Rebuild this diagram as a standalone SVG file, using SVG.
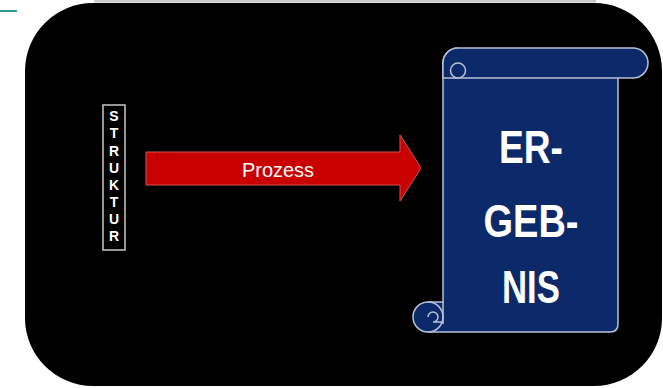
<svg xmlns="http://www.w3.org/2000/svg" width="663" height="388" viewBox="0 0 663 388">
<style>
.lbl{font-family:"Liberation Sans",Arial,sans-serif;fill:#ffffff}
.big{font-size:46px;font-weight:bold;text-anchor:middle}
.vert{font-size:14px;font-weight:bold;text-anchor:middle}
.scr{fill:#0c2a6a;stroke:#b8c0d8;stroke-width:1.5}
</style>
<rect width="663" height="388" fill="#ffffff"/>
<line x1="0" y1="11" x2="17" y2="11" stroke="#2a9a9a" stroke-width="2"/>
<line x1="94" y1="1.2" x2="596" y2="1.2" stroke="#c8c8c8" stroke-width="2.5"/>
<g id="frame">
<rect x="25" y="3" width="637" height="383" rx="68" ry="68" fill="#000000"/>
</g>
<g id="struktur">
<rect x="103" y="105" width="22" height="145" fill="#000000" stroke="#c8c8c8" stroke-width="1.5"/>
<text class="lbl vert" x="114" y="121">S</text>
<text class="lbl vert" x="114" y="138">T</text>
<text class="lbl vert" x="114" y="156">R</text>
<text class="lbl vert" x="114" y="173">U</text>
<text class="lbl vert" x="114" y="190">K</text>
<text class="lbl vert" x="114" y="207">T</text>
<text class="lbl vert" x="114" y="224">U</text>
<text class="lbl vert" x="114" y="241">R</text>
</g>
<g id="connectors">
<g id="prozess">
<path d="M146,152 L400,152 L400,135 L421,168 L400,201 L400,185 L146,185 Z" fill="#c80000" stroke="#d85050" stroke-width="1"/>
<text class="lbl" x="278" y="177" font-size="21" text-anchor="middle" textLength="72" lengthAdjust="spacingAndGlyphs">Prozess</text>
</g>
</g>
<g id="ergebnis">
<path class="scr" d="M443,63 L618,63 L618,324 Q618,332 610,332 L428,332 L428,302 L443,302 Z"/>
<rect class="scr" x="443" y="48" width="205" height="30" rx="15" ry="15"/>
<path class="scr" d="M458,48 A15,15 0 0 0 443,63 L443,78 L458,78 A7.5,7.5 0 0 1 458,63 A7.5,7.5 0 0 1 458,78" />
<circle class="scr" cx="428" cy="317" r="15"/>
<path d="M443,302 L443,324" stroke="#b8c0d8" stroke-width="1.5" fill="none"/>
<path d="M428,317 A5,5 0 0 1 433,312 A5,5 0 0 1 438,317 A5,5 0 0 1 433,322 L443,322" fill="none" stroke="#b8c0d8" stroke-width="1.5"/>
<text class="lbl big" x="531" y="163" textLength="64" lengthAdjust="spacingAndGlyphs">ER-</text>
<text class="lbl big" x="531" y="237" textLength="95" lengthAdjust="spacingAndGlyphs">GEB-</text>
<text class="lbl big" x="531" y="303" textLength="58" lengthAdjust="spacingAndGlyphs">NIS</text>
</g>
</svg>
